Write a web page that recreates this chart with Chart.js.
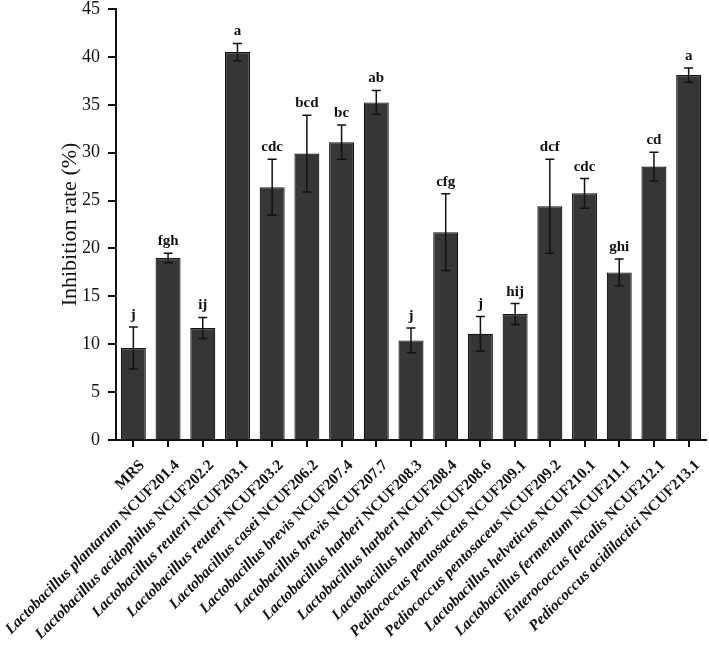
<!DOCTYPE html>
<html><head><meta charset="utf-8">
<script src="https://cdn.jsdelivr.net/npm/chart.js@4.4.1/dist/chart.umd.min.js"></script>
<style>html,body{margin:0;padding:0;background:#fff}#wrap{width:709px;height:646px}</style>
</head><body><div id="wrap"><canvas id="c" width="709" height="646"></canvas></div>
<script>
const categories = ['MRS','Lactobacillus plantarum NCUF201.4','Lactobacillus acidophilus NCUF202.2','Lactobacillus reuteri NCUF203.1','Lactobacillus reuteri NCUF203.2','Lactobacillus casei NCUF206.2','Lactobacillus brevis NCUF207.4','Lactobacillus brevis NCUF207.7','Lactobacillus harberi NCUF208.3','Lactobacillus harberi NCUF208.4','Lactobacillus harberi NCUF208.6','Pediococcus pentosaceus NCUF209.1','Pediococcus pentosaceus NCUF209.2','Lactobacillus helveticus NCUF210.1','Lactobacillus fermentum NCUF211.1','Enterococcus faecalis NCUF212.1','Pediococcus acidilactici NCUF213.1'];
const values = [9.6, 19.0, 11.7, 40.5, 26.4, 29.9, 31.1, 35.25, 10.4, 21.7, 11.1, 13.15, 24.4, 25.75, 17.5, 28.55, 38.1];
const errors = [2.2, 0.5, 1.1, 0.9, 2.9, 4.0, 1.8, 1.25, 1.3, 4.0, 1.8, 1.1, 4.9, 1.55, 1.4, 1.5, 0.75];
const letters = ['j','fgh','ij','a','cdc','bcd','bc','ab','j','cfg','j','hij','dcf','cdc','ghi','cd','a'];
const yTicks = [0,5,10,15,20,25,30,35,40,45];

const SERIF = '"Liberation Serif", "Times New Roman", serif';

const overlay = {
  id: 'overlay',
  afterDatasetsDraw(chart) {
    const ctx = chart.ctx;
    const x = chart.scales.x, y = chart.scales.y;
    ctx.save();
    ctx.strokeStyle = '#111';
    ctx.lineWidth = 1.5;
    values.forEach((v, i) => {
      const cx = x.getPixelForValue(i);
      const yt = y.getPixelForValue(v + errors[i]);
      const yb = y.getPixelForValue(v - errors[i]);
      ctx.beginPath();
      ctx.moveTo(cx, yt); ctx.lineTo(cx, yb);
      ctx.moveTo(cx - 4.5, yt); ctx.lineTo(cx + 4.5, yt);
      ctx.moveTo(cx - 4.5, yb); ctx.lineTo(cx + 4.5, yb);
      ctx.stroke();
      ctx.fillStyle = '#111';
      ctx.font = 'bold 15px ' + SERIF;
      ctx.textAlign = 'center';
      ctx.textBaseline = 'alphabetic';
      ctx.fillText(letters[i], cx, yt - 8);
    });
    // x labels
    const base = y.getPixelForValue(0);
    categories.forEach((lab, i) => {
      const cx = x.getPixelForValue(i);
      ctx.save();
      ctx.translate(cx + 9, base + 23);
      ctx.rotate(-Math.PI / 4);
      ctx.textBaseline = 'middle';
      ctx.fillStyle = '#111';
      const k = lab.lastIndexOf(' ');
      const fs = 15.5;
      if (k < 0) {
        ctx.font = 'bold ' + fs + 'px ' + SERIF;
        ctx.textAlign = 'right';
        ctx.fillText(lab, 0, 0);
      } else {
        const sp = lab.slice(0, k + 1), st = lab.slice(k + 1);
        ctx.font = 'bold ' + fs + 'px ' + SERIF;
        const w2 = ctx.measureText(st).width;
        ctx.textAlign = 'right';
        ctx.fillText(st, 0, 0);
        ctx.font = 'italic bold ' + fs + 'px ' + SERIF;
        ctx.fillText(sp, -w2, 0);
      }
      ctx.restore();
    });
    ctx.restore();
  }
};

new Chart(document.getElementById('c'), {
  type: 'bar',
  data: {
    labels: categories,
    datasets: [{
      data: values,
      backgroundColor: '#363636',
      borderColor: '#111',
      borderWidth: 1.2,
      barPercentage: 0.72,
      categoryPercentage: 1.0
    }]
  },
  options: {
    responsive: false,
    animation: false,
    devicePixelRatio: 1,
    layout: { padding: { left: 0, right: 3, top: 0, bottom: 0 } },
    plugins: { legend: { display: false }, tooltip: { enabled: false } },
    scales: {
      x: {
        offset: true,
        grid: { display: true, drawOnChartArea: false, drawTicks: true, tickLength: 7, color: '#111', lineWidth: 2, offset: false },
        border: { display: true, color: '#111', width: 2 },
        ticks: { display: false },
        afterFit(s) { s.height = 206; s.paddingLeft = 0; s.paddingRight = 0; }
      },
      y: {
        min: 0, max: 45,
        afterBuildTicks(s) { s.ticks = yTicks.map(v => ({ value: v })); },
        grid: { display: true, drawOnChartArea: false, drawTicks: true, tickLength: 8, color: '#111', lineWidth: 2 },
        border: { display: true, color: '#111', width: 2 },
        ticks: { color: '#111', padding: 8, font: { family: SERIF, size: 18 } },
        title: { display: true, text: 'Inhibition rate (%)', color: '#111', font: { family: SERIF, size: 22 }, padding: { top: 57, bottom: 0 } },
        afterFit(s) { s.width = 116; s.paddingTop = 9; s.paddingBottom = 0; }
      }
    }
  },
  plugins: [overlay]
});
</script>
</body></html>
